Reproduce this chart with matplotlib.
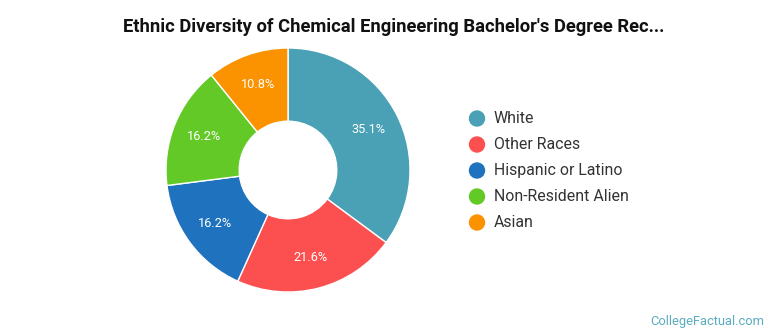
import matplotlib
matplotlib.use("Agg")
import matplotlib.pyplot as plt
import numpy as np

plt.rcParams['font.family'] = ['Roboto', 'DejaVu Sans']

categories = ["White", "Other Races", "Hispanic or Latino", "Non-Resident Alien", "Asian"]
shares = [35.1, 21.6, 16.2, 16.2, 10.8]
colors = ["#4aa0b5", "#fc5050", "#1f72bd", "#63c926", "#fb9300"]

W, H = 770, 335
fig = plt.figure(figsize=(W / 100, H / 100), dpi=100)

# donut axes: centre (288, 170) px, outer radius 122 px
cx, cy, r = 288, 170, 122
ax = fig.add_axes([(cx - r) / W, (H - cy - r) / H, 2 * r / W, 2 * r / H])
wedges, _ = ax.pie(shares, colors=colors, startangle=90, counterclock=False,
                   radius=1.0, wedgeprops=dict(width=0.6, edgecolor="white", linewidth=1))
ax.set_xlim(-1, 1)
ax.set_ylim(-1, 1)
ax.set_aspect("equal")
ax.axis("off")

total = sum(shares)
start = 90.0
for v in shares:
    mid = start - v / total * 360 / 2
    x = 0.74 * np.cos(np.radians(mid))
    y = 0.74 * np.sin(np.radians(mid))
    ax.text(x, y, f"{v:.1f}%", ha="center", va="center", color="white", fontsize=9.2)
    start -= v / total * 360

fig.text(394 / W, 1 - 27 / H, "Ethnic Diversity of Chemical Engineering Bachelor's Degree Rec...",
         ha="center", va="center", fontsize=13.2, fontweight="bold", color="#111111")

# legend
for i, (name, c) in enumerate(zip(categories, colors)):
    y = 1 - (118.5 + 26 * i) / H
    fig.patches.append(matplotlib.patches.Ellipse((477 / W, y), 15 / W, 15 / H,
                                                  transform=fig.transFigure, color=c))
    fig.text(494 / W, y, name, ha="left", va="center", fontsize=11.4, color="#333333")

fig.text(764 / W, 1 - 321 / H, "CollegeFactual.com", ha="right", va="center",
         fontsize=9.3, color="#5aabc0")

fig.savefig("out.png", dpi=100)
